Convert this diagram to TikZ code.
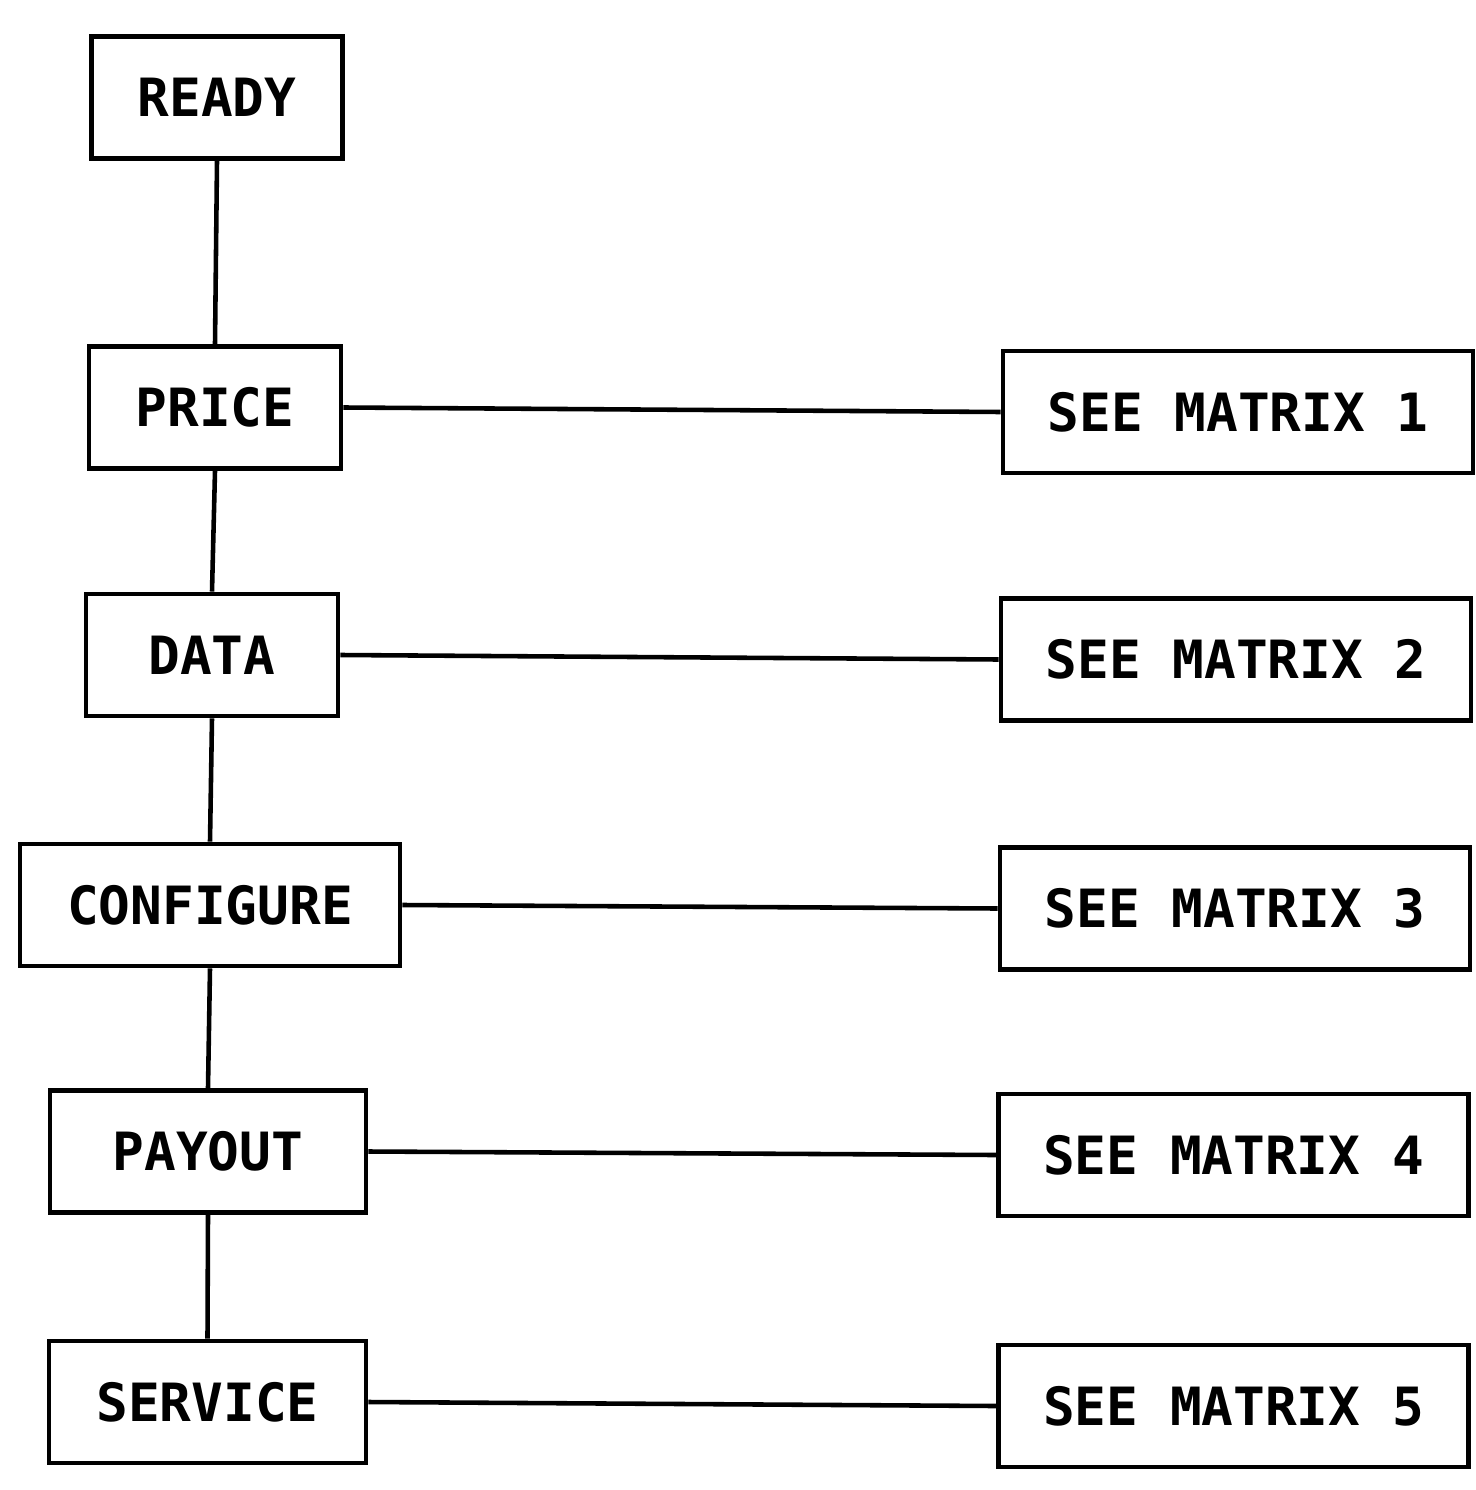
\documentclass[tikz,border=0pt]{standalone}
\usepackage{fontspec}
\setmonofont{DejaVu Sans Mono}
\tikzset{
  every picture/.style={line width=1.3pt},
  stepbox/.style={draw, line width=1.4pt, minimum height=1.22cm, inner sep=0pt,
    font=\ttfamily\bfseries\fontsize{15}{18}\selectfont},
  link/.style={draw, line width=1.3pt},
}
\begin{document}
\begin{tikzpicture}
  \useasboundingbox (0,0) rectangle (14.76,-14.90);
  % chain of steps on the left
  \foreach \n/\x/\y/\w/\t in {
     ready/2.17/-0.975/2.51/READY,
     price/2.15/-4.075/2.52/PRICE,
     data/2.12/-6.55/2.52/DATA,
     configure/2.10/-9.05/3.80/CONFIGURE,
     payout/2.08/-11.515/3.16/PAYOUT,
     service/2.075/-14.02/3.17/SERVICE} {
    \node[stepbox, minimum width=\w cm] (\n) at (\x,\y) {\t};
  }
  % matrix references on the right
  \foreach \k/\x/\y in {1/12.38/-4.12, 2/12.36/-6.595, 3/12.35/-9.085,
                        4/12.335/-11.55, 5/12.335/-14.06} {
    \node[stepbox, minimum width=4.70cm] (m\k) at (\x,\y) {SEE MATRIX \k};
  }
  % connectors
  \foreach \a/\b in {ready/price, price/data, data/configure,
                     configure/payout, payout/service}
    \draw[link] (\a.south) -- (\b.north);
  \foreach \a/\k in {price/1, data/2, configure/3, payout/4, service/5}
    \draw[link] (\a.east) -- (m\k.west);
\end{tikzpicture}
\end{document}
